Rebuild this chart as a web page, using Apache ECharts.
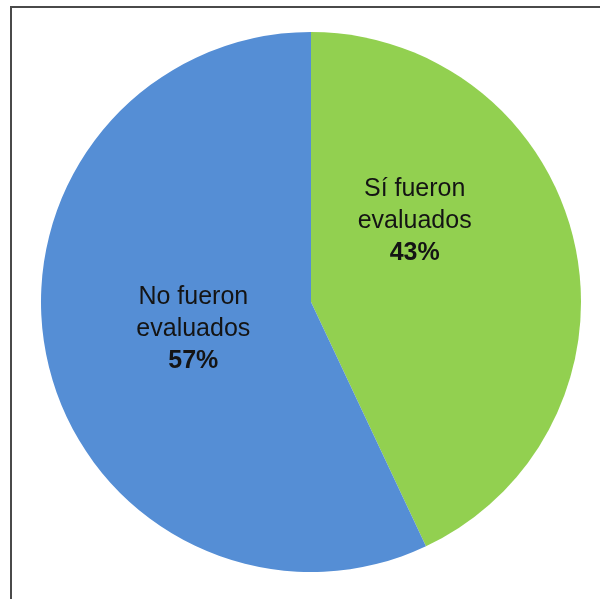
<!DOCTYPE html>
<html>
<head>
<meta charset="utf-8">
<style>
  html, body { margin: 0; padding: 0; background: #fff; }
  #chart { width: 600px; height: 599px; }
</style>
<script src="https://cdn.jsdelivr.net/npm/echarts@6/dist/echarts.min.js"></script>
</head>
<body>
<div id="chart"></div>
<script>
// Share of participants by evaluation status
const categories = ['Sí fueron\nevaluados', 'No fueron\nevaluados'];
const values = [43, 57];
const colors = ['#92D050', '#558ED5'];
// label nudges from the default inside position
const labelOffsets = [[-31, -51], [17, -3]];

const chart = echarts.init(document.getElementById('chart'), null, { renderer: 'canvas' });

chart.setOption({
  animation: false,
  backgroundColor: '#ffffff',
  graphic: [{
    type: 'rect',
    shape: { x: 11, y: 7, width: 620, height: 620 },
    style: { fill: 'none', stroke: '#4a4a4a', lineWidth: 2 },
    silent: true
  }],
  series: [{
    type: 'pie',
    center: [311, 302],
    radius: [0, 270],
    startAngle: 90,
    clockwise: true,
    silent: true,
    label: {
      show: true,
      position: 'inside',
      fontFamily: 'Liberation Sans, Arial, sans-serif',
      fontSize: 25,
      lineHeight: 32,
      color: '#141414',
      align: 'center',
      formatter: p => p.name + '\n{b|' + p.value + '%}',
      rich: {
        b: { fontWeight: 'bold', fontSize: 25, lineHeight: 32, color: '#141414',
             fontFamily: 'Liberation Sans, Arial, sans-serif' }
      }
    },
    labelLine: { show: false },
    itemStyle: { borderWidth: 0 },
    data: categories.map((name, i) => ({
      name,
      value: values[i],
      itemStyle: { color: colors[i] },
      label: { offset: labelOffsets[i] }
    }))
  }]
});
</script>
</body>
</html>
